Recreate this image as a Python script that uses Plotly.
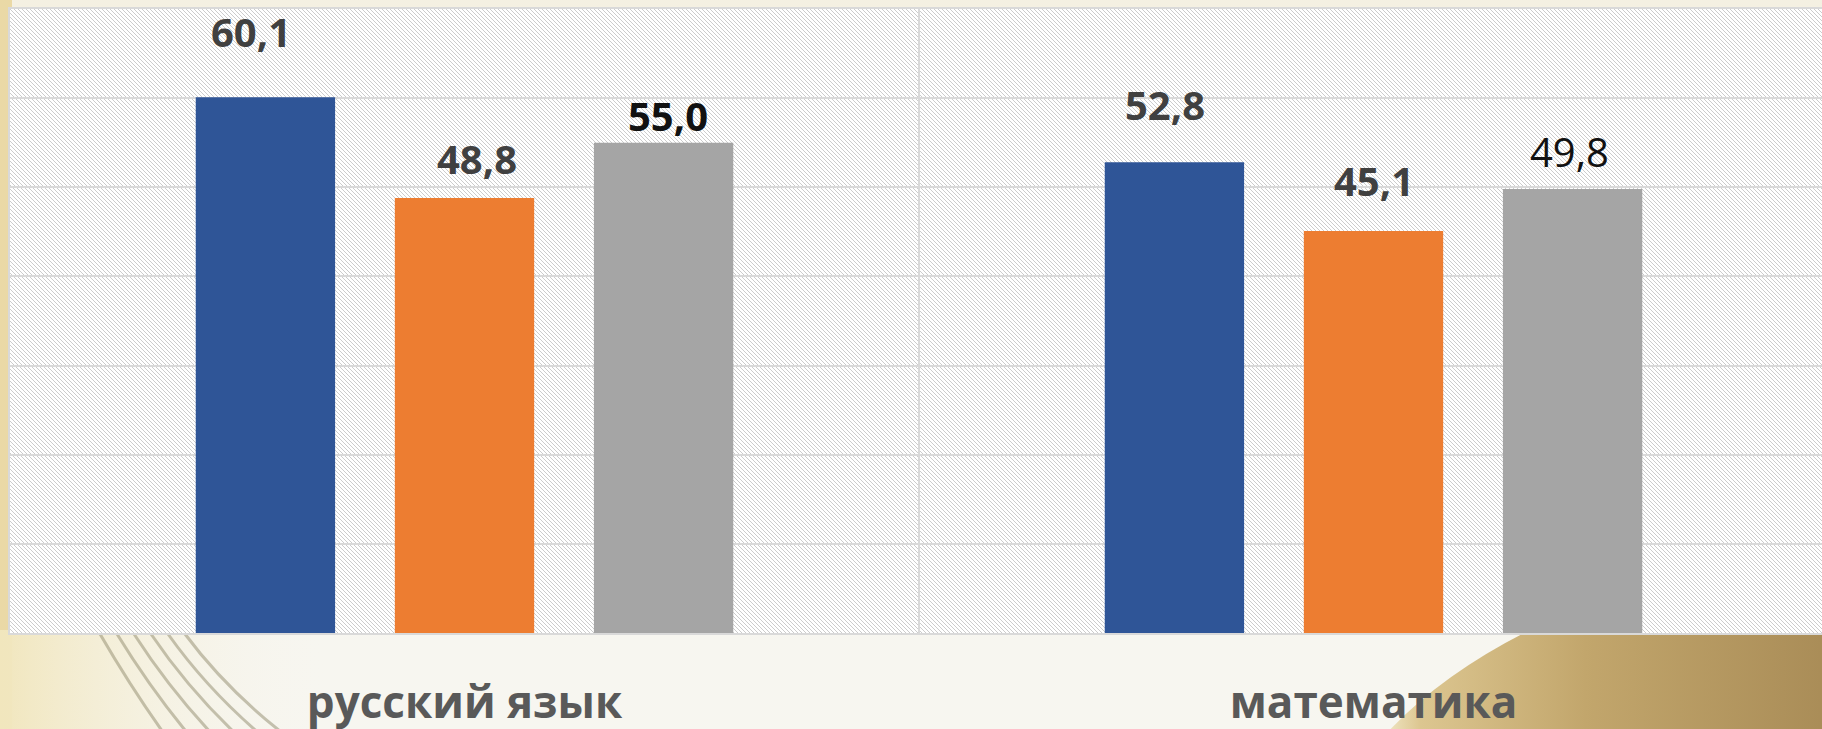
import base64
import plotly.graph_objects as go

# data
categories = ["русский язык", "математика"]
series_names = ["ряд 1", "ряд 2", "ряд 3"]
values_1 = [60.1, 52.8]
values_2 = [48.8, 45.1]
values_3 = [55.0, 49.8]
all_values = [values_1, values_2, values_3]

colors = ["#2f5597", "#ed7d31", "#a5a5a5"]

# label styling (colour / weight / manual pixel offsets, like the hand-placed labels in the slide)
label_color = [["#404040", "#404040"], ["#404040", "#404040"], ["#111111", "#111111"]]
label_weight = [["bold", "bold"], ["bold", "bold"], ["bold", "normal"]]
label_dx = [[-14, -9], [12, 0], [4, -3]]
label_dy = [[66, 58], [39, 50], [27, 38]]

W, H = 1822, 729
ML, MR, MT, MB = 10, 0, 9, 96
PW, PH = W - ML - MR, H - MT - MB
CAT_W = 909  # pixel width of one category slot (plot area runs past the right edge)
BARGAP = 0.343
x_range = [-0.5, -0.5 + PW / CAT_W]
slot = CAT_W * (1 - BARGAP) / 3


def svg_uri(svg):
    return "data:image/svg+xml;base64," + base64.b64encode(svg.encode("utf-8")).decode()


# hatched plot background
hatch_svg = (
    f"<svg xmlns='http://www.w3.org/2000/svg' width='{PW}' height='{PH}' shape-rendering='crispEdges'>"
    "<defs><pattern id='h' width='4' height='4' patternUnits='userSpaceOnUse'>"
    "<rect width='4' height='4' fill='#ffffff'/>"
    "<rect x='0' y='0' width='1' height='1' fill='#cccccc'/>"
    "<rect x='1' y='1' width='1' height='1' fill='#cccccc'/>"
    "<rect x='2' y='2' width='1' height='1' fill='#cccccc'/>"
    "<rect x='3' y='3' width='1' height='1' fill='#cccccc'/>"
    "</pattern></defs><rect width='100%' height='100%' fill='url(#h)'/></svg>"
)

# slide background (cream, tan edge, curved lines, gold swoosh)
arcs = "".join(
    f"<path d='M{100 + 17 * i},634 C{118 + 18 * i},665 {140 + 20 * i},700 {165 + 24 * i},735' "
    f"stroke='#8f8a6c' stroke-opacity='0.5' stroke-width='3' fill='none'/>"
    for i in range(6)
)
bg_svg = (
    f"<svg xmlns='http://www.w3.org/2000/svg' width='{W}' height='{H}'>"
    "<defs>"
    "<linearGradient id='g' x1='0' y1='0' x2='1' y2='0'>"
    "<stop offset='0' stop-color='#f0e6c4'/><stop offset='0.08' stop-color='#dcc690'/>"
    "<stop offset='0.45' stop-color='#c2a66c'/><stop offset='1' stop-color='#a98c57'/></linearGradient>"
    "<linearGradient id='l' x1='0' y1='0' x2='1' y2='0'>"
    "<stop offset='0' stop-color='#f1e6bd'/><stop offset='1' stop-color='#f7f6f0' stop-opacity='0'/></linearGradient>"
    "</defs>"
    f"<rect width='{W}' height='{H}' fill='#f7f6f0'/>"
    f"<rect width='{W}' height='12' fill='#f4f0e2'/>"
    f"<rect width='12' height='{H}' fill='#ead9a6'/>"
    "<rect x='0' y='630' width='330' height='100' fill='url(#l)'/>"
    + arcs +
    "<path d='M1530,630 Q1440,675 1385,735 L1830,735 L1830,630 Z' fill='url(#g)'/>"
    "</svg>"
)

fig = go.Figure()
for name, vals, color in zip(series_names, all_values, colors):
    fig.add_trace(go.Bar(
        x=categories,
        y=vals,
        name=name,
        marker=dict(color=color, line=dict(width=0)),
        showlegend=False,
    ))

# data labels, placed by hand like in the original
for i, vals in enumerate(all_values):
    for j, v in enumerate(vals):
        fig.add_annotation(
            x=categories[j], y=v,
            text=f"{v:.1f}".replace(".", ","),
            showarrow=False,
            xshift=(i - 1) * slot + label_dx[i][j],
            yshift=label_dy[i][j],
            yanchor="middle",
            font=dict(family="Open Sans", size=40, color=label_color[i][j], weight=label_weight[i][j]),
        )

fig.add_layout_image(
    source=svg_uri(bg_svg), xref="paper", yref="paper",
    x=-ML / PW, y=1 + MT / PH, sizex=W / PW, sizey=H / PH,
    xanchor="left", yanchor="top", sizing="stretch", layer="below",
)
fig.add_layout_image(
    source=svg_uri(hatch_svg), xref="paper", yref="paper",
    x=0, y=1, sizex=1, sizey=1,
    xanchor="left", yanchor="top", sizing="stretch", layer="below",
)

fig.update_layout(
    width=W, height=H, autosize=False,
    margin=dict(l=ML, r=MR, t=MT, b=MB, pad=0),
    paper_bgcolor="#f7f6f0",
    plot_bgcolor="rgba(0,0,0,0)",
    barmode="group", bargap=BARGAP, bargroupgap=0.30,
    font=dict(family="Open Sans"),
)
fig.update_xaxes(
    range=x_range, tickson="boundaries", showgrid=True, gridcolor="#d9d9d9", gridwidth=2,
    ticks="", showline=True, linecolor="#d9d9d9", linewidth=2, mirror=True,
    tickfont=dict(family="Open Sans", size=44, color="#595959", weight="bold"),
    ticklabelstandoff=30, automargin=False,
)
fig.update_yaxes(
    range=[0, 70], dtick=10, showticklabels=False, showgrid=True,
    gridcolor="#d9d9d9", gridwidth=2, zeroline=False, automargin=False,
    showline=True, linecolor="#d9d9d9", linewidth=2, mirror=True,
)

# the slide fills the whole window, so drop the default page margin
fig.write_html(
    "out.html",
    config={"displayModeBar": False, "responsive": False},
    post_script="document.body.style.margin='0';document.body.style.background='#f7f6f0';",
)
